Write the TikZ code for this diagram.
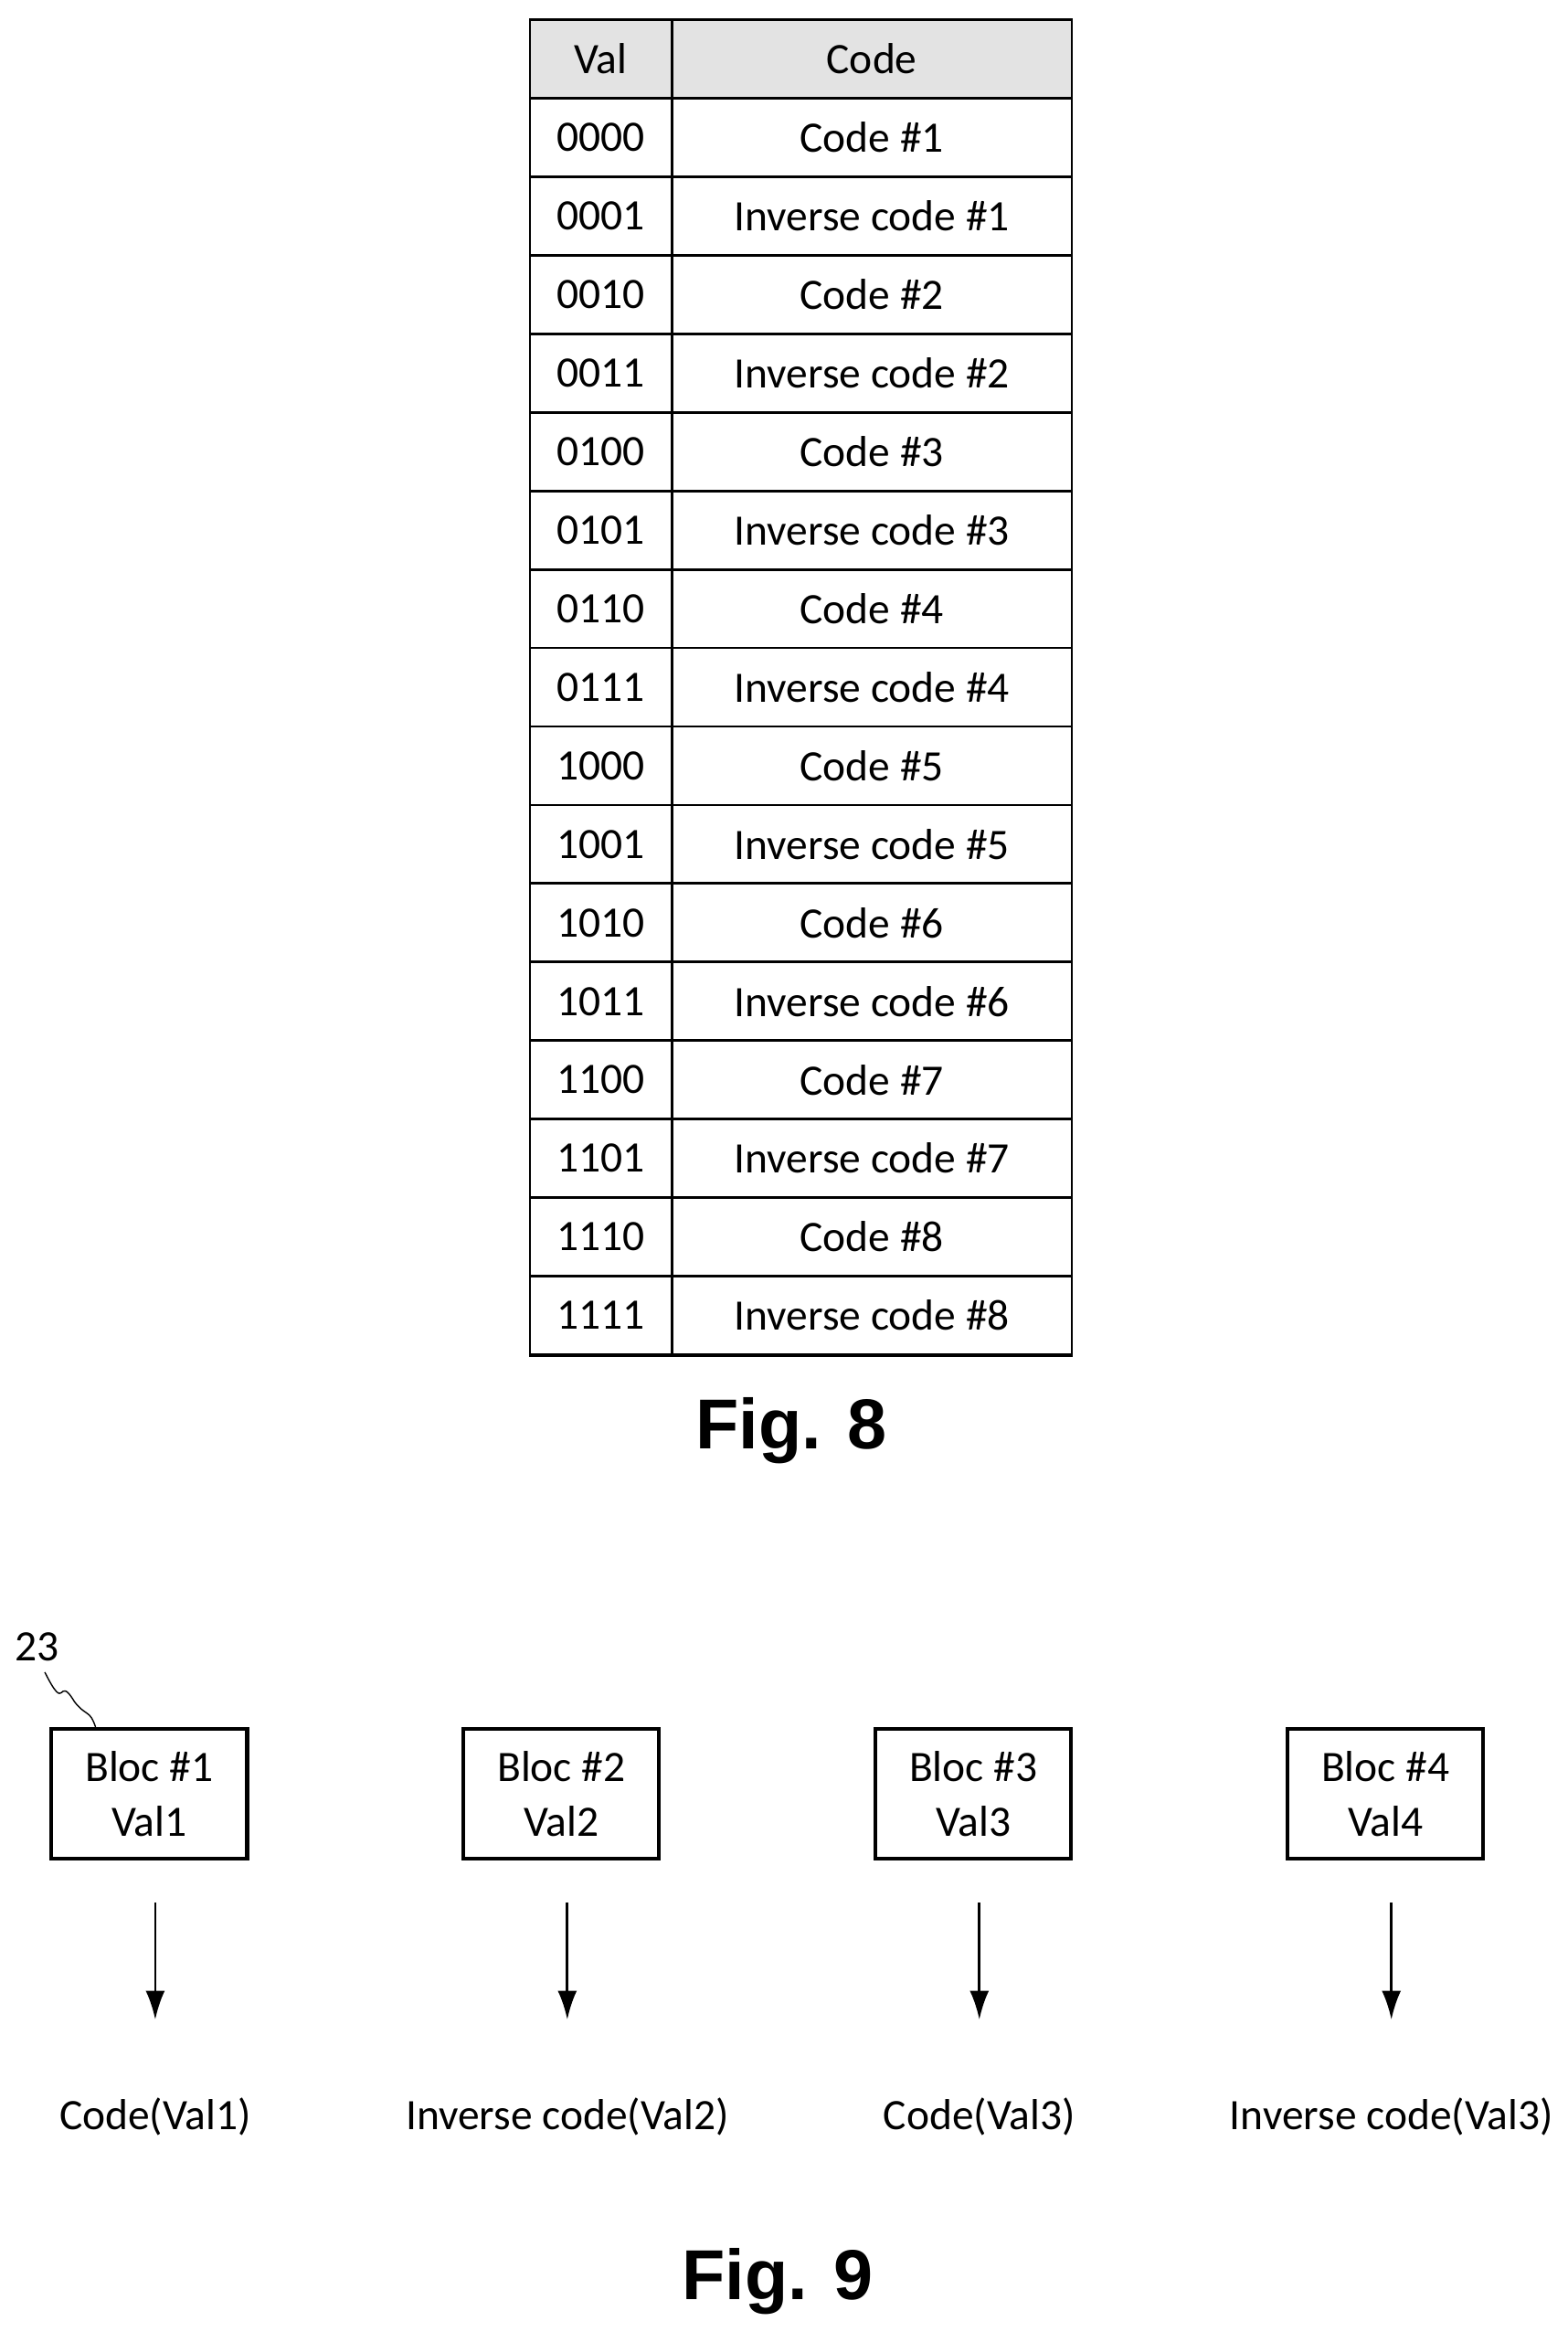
\documentclass[tikz,border=0pt]{standalone}
\usepackage{fontspec}
\setmainfont{Carlito}
\newfontfamily\figfont{Liberation Sans}
\usetikzlibrary{arrows.meta}

\tikzset{
  cell/.style={draw,thick,minimum height=52.6*0.01633cm,inner sep=0pt},
  blocbox/.style={draw,very thick,minimum width=131*0.01633cm,minimum height=87*0.01633cm,align=center,inner sep=0pt,font=\fontsize{13.5}{17}\selectfont},
  figlabel/.style={font=\figfont\bfseries\fontsize{22}{26}\selectfont},
  down/.style={-{Latex[length=9pt,width=6pt]},thick}
}

\begin{document}
\begin{tikzpicture}[x=0.01633cm,y=-0.01633cm,font=\fontsize{13.5}{16}\selectfont]
		\useasboundingbox (0,0) rectangle (1050,1562);
		
		% Table of values and codes
		\node[cell,fill=gray!22,minimum width=95*0.01633cm] (hval) at (402.5,39.5) {Val};
		\node[cell,fill=gray!22,minimum width=268*0.01633cm] (hcode) at (584,39.5) {Code};
		\foreach \v [count=\i] in {0000,0001,0010,0011,0100,0101,0110,0111,1000,1001,1010,1011,1100,1101,1110,1111}
		{
			\pgfmathtruncatemacro{\k}{(\i+1)/2}
			\pgfmathtruncatemacro{\odd}{mod(\i,2)}
			\node[cell,minimum width=95*0.01633cm] (val\i) at (402.5,39.5+52.6*\i) {\v};
			\ifnum\odd=1
				\node[cell,minimum width=268*0.01633cm] (code\i) at (584,39.5+52.6*\i) {Code \#\k};
			\else
				\node[cell,minimum width=268*0.01633cm] (code\i) at (584,39.5+52.6*\i) {Inverse code \#\k};
			\fi
		}
		\draw[thick] (355,13) rectangle (718,908);
		\node[figlabel] (fig8) at (530,958) {Fig. 8};
		
		% Blocs and their codes
		\foreach \x/\n/\lab in {100/1/Code(Val1),376/2/Inverse code(Val2),652/3/Code(Val3),928/4/Inverse code(Val3)}
		{
			\node[blocbox] (bloc\n) at (\x,1201.5) {Bloc \#\n\\Val\n};
			\node (out\n) at (\x+4,1418) {\lab};
			\draw[down] ([yshift=-28*0.01633cm]bloc\n.south -| out\n) -- ([yshift=45*0.01633cm]out\n.north);
		}
		
		% Reference numeral
		\node (ref) at (25,1103) {23};
		\draw (30,1120) .. controls (45,1150) and (38,1120) .. (50,1140) .. controls (58,1150) and (60,1145) .. (bloc1.north west -| 64,0);
		\node[figlabel] (fig9) at (521,1528) {Fig. 9};
	\end{tikzpicture}
\end{document}
